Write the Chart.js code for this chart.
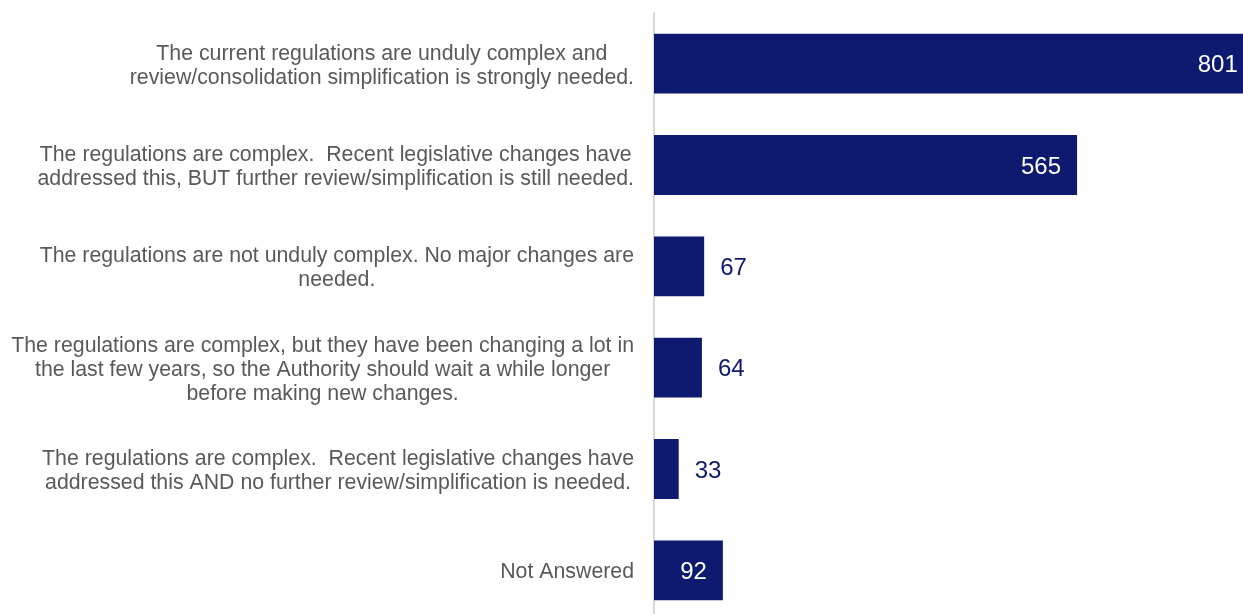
<!DOCTYPE html>
<html>
<head>
<meta charset="utf-8">
<script src="https://cdn.jsdelivr.net/npm/chart.js@4.4.1/dist/chart.umd.min.js"></script>
<style>
  html, body { margin: 0; padding: 0; background: #ffffff; overflow: hidden; }
  #wrap { position: absolute; left: 0; top: 0; width: 1270px; height: 622px; }
</style>
</head>
<body>
<div id="wrap"><canvas id="chart"></canvas></div>
<script>
// Survey responses on the complexity of the regulations
const categories = [
  ["The current regulations are unduly complex and", "review/consolidation simplification is strongly needed."],
  ["The regulations are complex.  Recent legislative changes have", "addressed this, BUT further review/simplification is still needed."],
  ["The regulations are not unduly complex. No major changes are", "needed."],
  ["The regulations are complex, but they have been changing a lot in", "the last few years, so the Authority should wait a while longer", "before making new changes."],
  ["The regulations are complex.  Recent legislative changes have", "addressed this AND no further review/simplification is needed."],
  ["Not Answered"]
];
const responses = [801, 565, 67, 64, 33, 92];

const NAVY = '#0e1a70';
const GREY_TEXT = '#595959';
const FONT = '"Liberation Sans", Arial, sans-serif';

// Category labels: right-aligned blocks, lines centred within each block
const categoryLabels = {
  id: 'categoryLabels',
  afterDraw(chart) {
    const ctx = chart.ctx;
    const yScale = chart.scales.y;
    const right = 634;
    const lineH = 24;
    ctx.save();
    ctx.font = '21.3px ' + FONT;
    ctx.fillStyle = GREY_TEXT;
    ctx.textAlign = 'center';
    ctx.textBaseline = 'middle';
    categories.forEach((lines, i) => {
      const cy = yScale.getPixelForValue(i) + 2;
      const maxW = Math.max(...lines.map(l => ctx.measureText(l).width));
      const cx = right - maxW / 2;
      const top = cy - (lines.length - 1) * lineH / 2;
      lines.forEach((l, j) => ctx.fillText(l, cx, top + j * lineH));
    });
    ctx.restore();
  }
};

// Value labels: inside the bar end when there is room, otherwise just past it
const valueLabels = {
  id: 'valueLabels',
  afterDatasetsDraw(chart) {
    const ctx = chart.ctx;
    const meta = chart.getDatasetMeta(0);
    const pad = 16;
    ctx.save();
    ctx.font = '24px ' + FONT;
    ctx.textBaseline = 'middle';
    meta.data.forEach((bar, i) => {
      const txt = String(responses[i]);
      const w = ctx.measureText(txt).width;
      const barW = bar.x - bar.base;
      const y = bar.y + 2;
      if (barW >= w + 2 * pad) {
        ctx.fillStyle = '#ffffff';
        ctx.textAlign = 'right';
        ctx.fillText(txt, bar.x - pad, y);
      } else {
        ctx.fillStyle = NAVY;
        ctx.textAlign = 'left';
        ctx.fillText(txt, bar.x + pad, y);
      }
    });
    ctx.restore();
  }
};

new Chart(document.getElementById('chart'), {
  type: 'bar',
  data: {
    labels: categories,
    datasets: [{
      data: responses,
      backgroundColor: NAVY,
      borderWidth: 0,
      categoryPercentage: 1,
      barPercentage: 0.59
    }]
  },
  options: {
    indexAxis: 'y',
    responsive: true,
    maintainAspectRatio: false,
    animation: false,
    layout: { padding: { top: 13, bottom: 1, right: 2, left: 0 } },
    plugins: {
      legend: { display: false },
      tooltip: { enabled: false }
    },
    scales: {
      x: {
        display: false,
        min: 0,
        max: 820
      },
      y: {
        ticks: { display: false },
        grid: { display: false },
        border: { display: true, color: '#d9d9d9', width: 2 },
        afterFit(scale) { scale.width = 654; }
      }
    }
  },
  plugins: [categoryLabels, valueLabels]
});
</script>
</body>
</html>
